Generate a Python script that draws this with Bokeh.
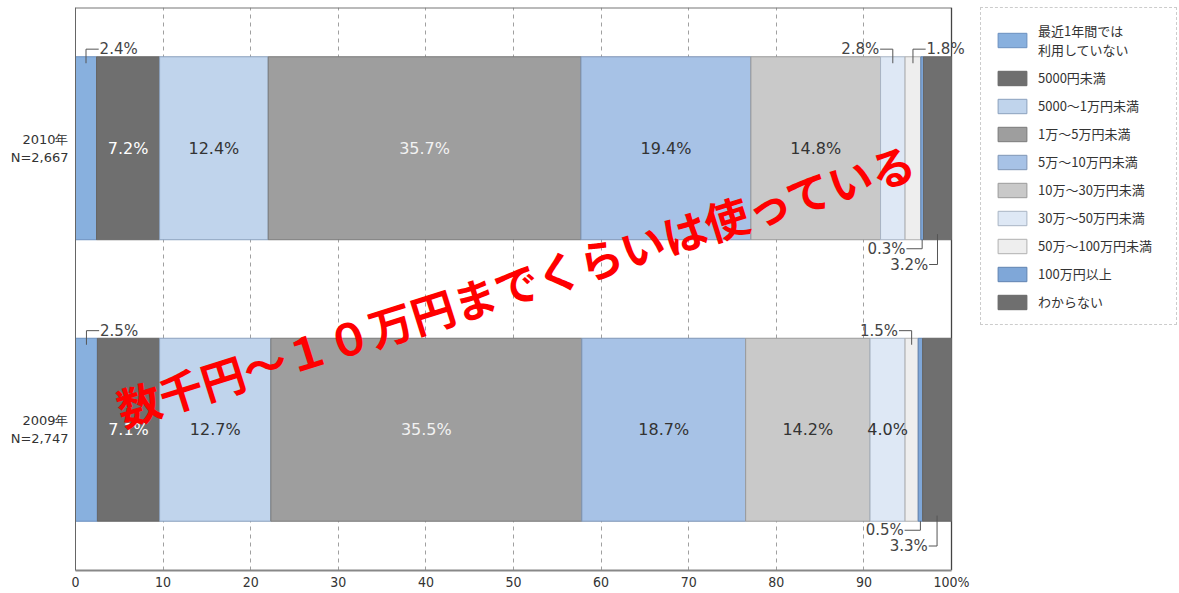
from bokeh.plotting import figure
from bokeh.models import Range1d, FixedTicker, ColumnDataSource, Legend, LegendItem
from bokeh.core.properties import value
from bokeh.embed import file_html
from bokeh.resources import INLINE

# ---------------- data ----------------
categories = ["最近1年間では\n利用していない", "5000円未満", "5000〜1万円未満", "1万〜5万円未満",
              "5万〜10万円未満", "10万〜30万円未満", "30万〜50万円未満", "50万〜100万円未満",
              "100万円以上", "わからない"]
row_labels = ["2010年\nN=2,667", "2009年\nN=2,747"]
values_2010 = [2.4, 7.2, 12.4, 35.7, 19.4, 14.8, 2.8, 1.8, 0.3, 3.2]
values_2009 = [2.5, 7.1, 12.7, 35.5, 18.7, 14.2, 4.0, 1.5, 0.5, 3.3]
x_ticks = [0, 10, 20, 30, 40, 50, 60, 70, 80, 90, 100]
x_tick_labels = ["0", "10", "20", "30", "40", "50", "60", "70", "80", "90", "100%"]
note_text = "数千円～１０万円までくらいは使っている"

# ---------------- styles ----------------
colors = ["#88b0de", "#6f6f6f", "#c0d4ec", "#9e9e9e", "#a7c2e6",
          "#c9c9c9", "#dee8f5", "#eeeeee", "#7fa7d8", "#6f6f6f"]
line_colors = ["#6a8fbf", "#666666", "#8aa0bd", "#7a7a7a", "#7f95b5",
               "#9a9a9a", "#a8b4c4", "#b0b0b0", "#5f82b0", "#666666"]
label_colors = ["#333", "#ffffff", "#333", "#f2f2f2", "#333", "#333", "#333", "#333", "#333", "#ffffff"]
row_y = [2, 1]
bar_h = 0.65
NUM_FONT = "'DejaVu Sans', sans-serif"
TICK_FONT = "'DejaVu Sans Condensed', 'DejaVu Sans', sans-serif"
JP_FONT = "'Noto Sans CJK JP', sans-serif"

rows = [values_2010, values_2009]

def cumulate(vals):
    out, s = [], 0.0
    for v in vals:
        out.append(s)
        s += v
    return out

starts = [cumulate(r) for r in rows]
x_max = x_ticks[-1]
y_lo, y_hi = 0.5, 2.5

p = figure(frame_width=905, frame_height=563, x_range=Range1d(0, 103.31), y_range=Range1d(y_lo, y_hi),
           output_backend="svg", toolbar_location=None,
           min_border_left=75, min_border_right=0, min_border_top=7, min_border_bottom=20)

p.outline_line_color = None
p.background_fill_color = "white"
p.ygrid.visible = False
p.xgrid.ticker = FixedTicker(ticks=x_ticks[1:-1])
p.xgrid.grid_line_color = "#a0a0a0"
p.xgrid.grid_line_dash = "4 4"
p.xgrid.grid_line_width = 1

p.xaxis.ticker = FixedTicker(ticks=x_ticks)
p.xaxis.bounds = (0, x_max)
p.xaxis.major_label_overrides = {t: l for t, l in zip(x_ticks, x_tick_labels)}
p.xaxis.major_tick_line_color = None
p.xaxis.major_tick_out = 0
p.xaxis.major_tick_in = 0
p.xaxis.minor_tick_line_color = None
p.xaxis.axis_line_color = "#888888"
p.xaxis.axis_line_width = 2
p.xaxis.major_label_text_font = TICK_FONT
p.xaxis.major_label_text_font_size = "14px"
p.xaxis.major_label_text_color = "#333333"
p.xaxis.major_label_standoff = 3

p.yaxis.ticker = FixedTicker(ticks=row_y)
p.yaxis.major_label_overrides = {y: l for y, l in zip(row_y, row_labels)}
p.yaxis.major_tick_line_color = None
p.yaxis.major_tick_out = 0
p.yaxis.major_tick_in = 0
p.yaxis.minor_tick_line_color = None
p.yaxis.axis_line_color = "#666666"
p.yaxis.axis_line_width = 1
p.yaxis.major_label_text_font = NUM_FONT
p.yaxis.major_label_text_font_size = "13px"
p.yaxis.major_label_text_color = "#333333"
p.yaxis.major_label_standoff = 7

# chart border (top and right) limited to the 0-100% area
p.line(x=[0, x_max], y=[y_hi, y_hi], line_color="#777777", line_width=2)
p.line(x=[x_max, x_max], y=[y_lo, y_hi], line_color="#444444", line_width=1.3)

items = []
for i, cat in enumerate(categories):
    src = ColumnDataSource(dict(
        y=row_y,
        left=[starts[r][i] for r in range(2)],
        right=[starts[r][i] + rows[r][i] for r in range(2)],
    ))
    rend = p.hbar(y="y", left="left", right="right", height=bar_h, source=src,
                  fill_color=colors[i], line_color=line_colors[i], line_width=1)
    items.append(LegendItem(label=cat, renderers=[rend]))

# inside labels
ix, iy, it, ic = [], [], [], []
for r in range(2):
    for i, v in enumerate(rows[r]):
        if v >= 4.0:
            ix.append(starts[r][i] + v / 2)
            iy.append(row_y[r])
            it.append(f"{v:.1f}%")
            ic.append(label_colors[i])
p.text(x=ix, y=iy, text=it, text_color=ic, text_align="center", text_baseline="middle",
       text_font=value(NUM_FONT), text_font_size="16px")

# callouts: (row, segment, side, text side)
callouts = [(0, 0, "top", "right"), (0, 6, "top", "left"), (0, 7, "top", "right"),
            (0, 8, "bottom1", "left"), (0, 9, "bottom2", "left"),
            (1, 0, "top", "right"), (1, 7, "top", "left"),
            (1, 8, "bottom1", "left"), (1, 9, "bottom2", "left")]
lx, ly, tx, ty, tt, ta = [], [], [], [], [], []
for r, i, side, tside in callouts:
    v = rows[r][i]
    xc = starts[r][i] + v / 2
    top = row_y[r] + bar_h / 2
    bot = row_y[r] - bar_h / 2
    if side == "top":
        y0, y1 = top - 0.023, top + 0.027
        dx = 1.45
    elif side == "bottom1":
        y0, y1 = bot, bot - 0.032
        dx = 1.8
    else:
        y0, y1 = bot + 0.02, bot - 0.088
        dx = 0.95
    xe = xc + dx if tside == "right" else xc - dx
    lx.append([xc, xc, xe])
    ly.append([y0, y1, y1])
    tx.append(xe + 0.1 if tside == "right" else xe - 0.1)
    ty.append(y1)
    tt.append(f"{v:.1f}%")
    ta.append("left" if tside == "right" else "right")
p.multi_line(xs=lx, ys=ly, line_color="#555555", line_width=1)
p.text(x=tx, y=ty, text=tt, text_align=ta, text_baseline="middle", text_color="#444444",
       text_font=value(NUM_FONT), text_font_size="15px")

# red overlay note
p.text(x=[50.3], y=[1.518], text=[note_text], angle=0.305, text_align="center",
       text_baseline="middle", text_color="#ff0000", text_font=value(JP_FONT),
       text_font_style="bold", text_font_size="44px")

legend = Legend(items=items, location="top_left", glyph_width=36, glyph_height=18,
                label_text_font=JP_FONT, label_text_font_size="13px", label_text_color="#333333",
                spacing=9, padding=13, margin=0, label_standoff=8, label_width=125,
                border_line_color="#9a9a9a", border_line_dash="3 3", border_line_width=1,
                background_fill_color="white", background_fill_alpha=1)
p.add_layout(legend, "right")

open("out.html", "w").write(file_html(p, INLINE))
